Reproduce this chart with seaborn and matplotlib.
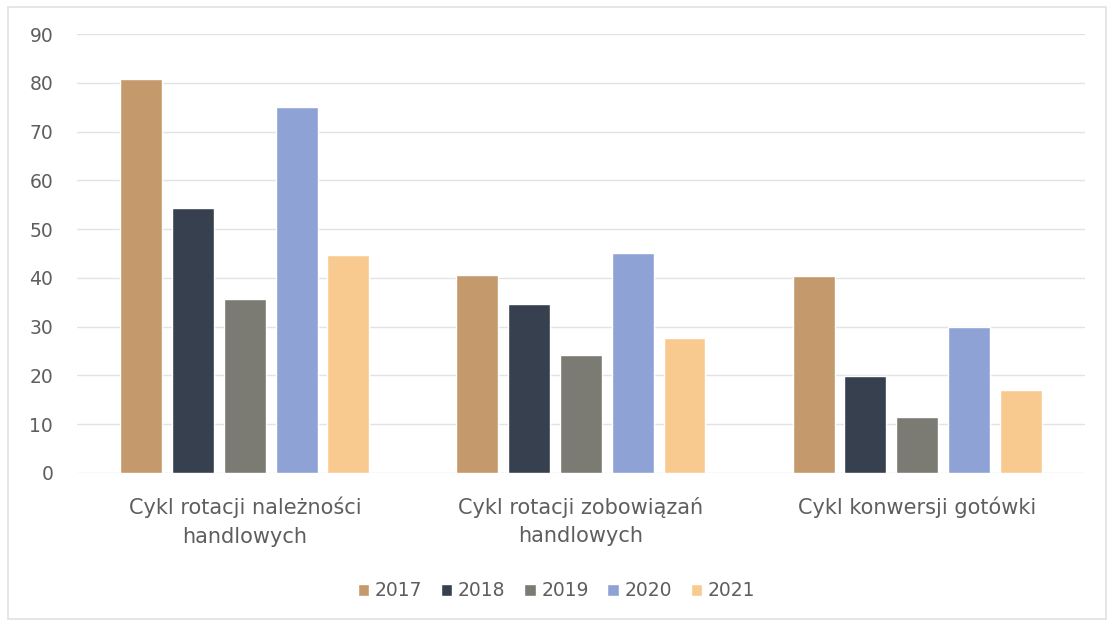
import matplotlib
matplotlib.use("Agg")
import matplotlib.pyplot as plt
from matplotlib.patches import Rectangle
import seaborn as sns
import pandas as pd

# Cycle lengths (days) per category and year
categories = [
    "Cykl rotacji należności\nhandlowych",
    "Cykl rotacji zobowiązań\nhandlowych",
    "Cykl konwersji gotówki",
]
years = ["2017", "2018", "2019", "2020", "2021"]
values_2017 = [80.7, 40.6, 40.4]
values_2018 = [54.3, 34.6, 19.9]
values_2019 = [35.6, 24.2, 11.5]
values_2020 = [75.0, 45.1, 29.9]
values_2021 = [44.7, 27.7, 17.0]
y_ticks = [0, 10, 20, 30, 40, 50, 60, 70, 80, 90]

colors = ["#c49a6c", "#36404f", "#7b7a73", "#8ea2d5", "#f8ca90"]

series = [values_2017, values_2018, values_2019, values_2020, values_2021]
rows = []
for year, vals in zip(years, series):
    for cat, v in zip(categories, vals):
        rows.append({"kategoria": cat, "rok": year, "dni": v})
df = pd.DataFrame(rows)

sns.set_theme(style="white")
plt.rcParams["font.family"] = ["DejaVu Sans"]
text_color = "#5e5e5e"
fs = 13.5

fig = plt.figure(figsize=(11.13, 6.24), dpi=100)
ax = fig.add_axes([0.069, 0.242, 0.906, 0.7035])

sns.barplot(
    data=df, x="kategoria", y="dni", hue="rok",
    order=categories, hue_order=years,
    palette=colors, width=0.77, gap=0.19,
    saturation=1, ax=ax, errorbar=None,
)

ax.set_ylim(0, 90)
ax.set_yticks(y_ticks)
ax.set_xlim(-0.5, 2.5)
ax.grid(axis="y", color="#e3e3e3", linewidth=1.0)
ax.set_axisbelow(True)
for s in ax.spines.values():
    s.set_visible(False)
ax.set_xlabel("")
ax.set_ylabel("")
ax.tick_params(axis="both", length=0, colors=text_color, labelsize=fs)
ax.tick_params(axis="y", pad=17)
ax.tick_params(axis="x", pad=17, labelsize=15)
for lbl in ax.get_xticklabels():
    lbl.set_linespacing(1.55)

sns.move_legend(
    ax, "center", bbox_to_anchor=(0.5, 0.053), bbox_transform=fig.transFigure,
    ncol=5, frameon=False, title=None, fontsize=fs,
    handlelength=0.6, handleheight=0.6, handletextpad=0.3, columnspacing=1.0,
)
for t in ax.get_legend().get_texts():
    t.set_color(text_color)

# light outer frame around the chart area
fig.patches.append(Rectangle((0.007, 0.008), 0.987, 0.981, transform=fig.transFigure,
                             fill=False, edgecolor="#e2e2e2", linewidth=1.2))

fig.savefig("out.png", dpi=100, facecolor="white")
